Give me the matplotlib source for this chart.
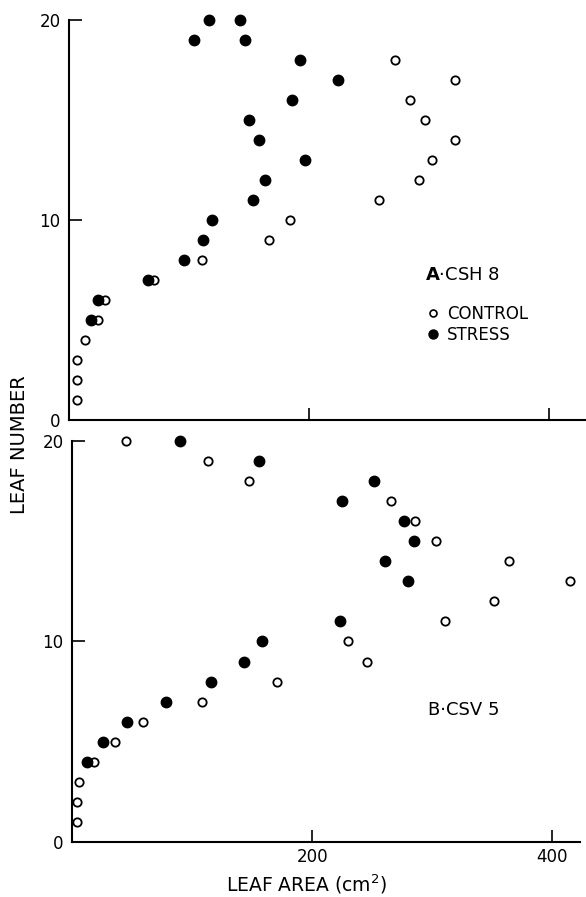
import matplotlib.pyplot as plt
from matplotlib.lines import Line2D

plt.rcParams['font.family'] = ['DejaVu Sans']

# Panel A: CSH 8
control_a_leaf = [1, 2, 3, 4, 5, 6, 7, 8, 9, 10, 11, 12, 13, 14, 15, 16, 17, 18]
control_a_area = [6.4, 6.4, 6.4, 13.3, 24.4, 30.3, 70.8, 111, 166.7, 184, 258.6,
                  292, 303, 322, 296.7, 284, 321.7, 271.7]
stress_a_leaf = [5, 6, 7, 8, 9, 10, 11, 12, 13, 14, 15, 16, 17, 18, 19, 19, 20, 20]
stress_a_area = [18.3, 24.4, 66, 95.6, 111.4, 119.5, 153, 163, 197, 158, 150,
                 185.5, 224, 192.5, 104, 147, 116.7, 142.5]

# Panel B: CSV 5
control_b_leaf = [1, 2, 3, 4, 5, 6, 7, 8, 9, 10, 11, 12, 13, 14, 15, 16, 17, 18, 19, 20]
control_b_area = [4.2, 4.2, 5.8, 18.6, 36, 59, 108.3, 170.8, 245.6, 229.7, 311,
                  351, 415, 363.9, 302.8, 285.6, 265.8, 147.8, 113, 45]
stress_b_leaf = [4, 5, 6, 7, 8, 9, 10, 11, 13, 14, 15, 16, 17, 18, 19, 20]
stress_b_area = [12.8, 25.8, 46, 78.6, 115.6, 143, 158.6, 222.8, 280, 261, 285,
                 276.7, 225, 251.7, 155.3, 90.3]

x_ticks = [200, 400]
y_ticks = [0, 10, 20]

W, H = 586, 897
fig = plt.figure(figsize=(W / 100, H / 100), dpi=100)
ax1 = fig.add_axes([69 / W, 1 - 420 / H, (586 - 69) / W, 400 / H])
ax2 = fig.add_axes([72 / W, 1 - 842 / H, (580 - 72) / W, 401 / H])
ax1.set_xlim(0, 431)
ax2.set_xlim(0, 423)


def draw(ax, c_area, c_leaf, s_area, s_leaf):
    ax.plot(c_area, c_leaf, 'o', ms=6, mfc='white', mec='black', mew=1.3,
            ls='none', clip_on=False, label='CONTROL')
    ax.plot(s_area, s_leaf, 'o', ms=7.5, mfc='black', mec='black',
            ls='none', clip_on=False, label='STRESS')
    ax.set_ylim(0, 20)
    ax.set_xticks(x_ticks)
    ax.set_yticks(y_ticks)
    ax.tick_params(direction='in', length=9, width=1.2, labelsize=12, pad=4)
    ax.tick_params(axis='y', pad=6)
    for s in ['top', 'right']:
        ax.spines[s].set_visible(False)
    for s in ['left', 'bottom']:
        ax.spines[s].set_linewidth(1.5)


draw(ax1, control_a_area, control_a_leaf, stress_a_area, stress_a_leaf)
draw(ax2, control_b_area, control_b_leaf, stress_b_area, stress_b_leaf)
ax1.tick_params(axis='x', labelbottom=False)

ax1.text(425 / W, 1 - 275 / H, r'$\mathbf{A}$' + '\u00b7CSH 8', transform=fig.transFigure,
         fontsize=13, va='center', ha='left')
handles = [
    Line2D([], [], marker='o', ls='none', ms=5, mfc='white', mec='black', mew=1.2),
    Line2D([], [], marker='o', ls='none', ms=6.5, mfc='black', mec='black'),
]
fig.legend(handles, ['CONTROL', 'STRESS'], loc='upper left',
           bbox_to_anchor=(420 / W, 1 - 297 / H), frameon=False, fontsize=12,
           handlelength=0.5, handletextpad=0.6, labelspacing=0.15, borderpad=0)

ax2.text(428 / W, 1 - 710 / H, 'B\u00b7CSV 5', transform=fig.transFigure,
         fontsize=13, va='center', ha='left')

fig.text(20 / W, 1 - 445 / H, 'LEAF NUMBER', rotation=90, fontsize=14,
         ha='center', va='center')
fig.text(306 / W, 1 - 884 / H, 'LEAF AREA (cm$^2$)', fontsize=13.5,
         ha='center', va='center')

fig.savefig('out.png', dpi=100)
